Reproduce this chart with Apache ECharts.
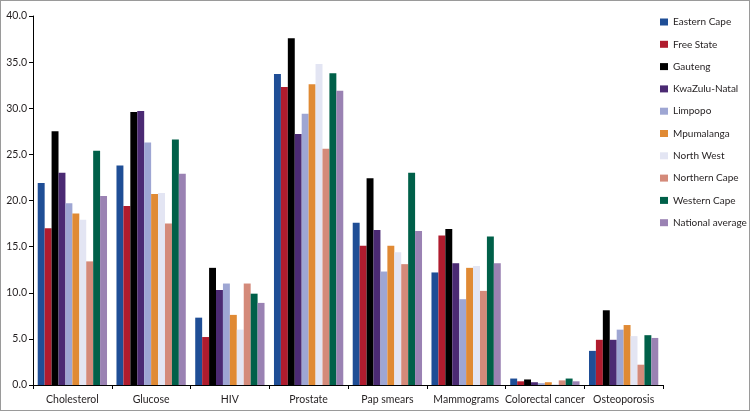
<!DOCTYPE html>
<html>
<head>
<meta charset="utf-8" />
<title></title>
<script src="https://cdn.jsdelivr.net/npm/echarts@6/dist/echarts.min.js"></script>
<style>
  html, body { margin: 0; padding: 0; background: #fff; }
  #chart { width: 750px; height: 411px; box-sizing: border-box; border: 1px solid #9a9a9a; }
</style>
</head>
<body>
<div id="chart"></div>
<script>
var categories = ['Cholesterol', 'Glucose', 'HIV', 'Prostate', 'Pap smears', 'Mammograms', 'Colorectal cancer', 'Osteoporosis'];

var provinces = ['Eastern Cape', 'Free State', 'Gauteng', 'KwaZulu-Natal', 'Limpopo', 'Mpumalanga', 'North West', 'Northern Cape', 'Western Cape', 'National average'];

// values per province, in category order
var easternCape   = [21.9, 23.8, 7.3, 33.7, 17.6, 12.2, 0.7, 3.7];
var freeState     = [17.0, 19.4, 5.2, 32.3, 15.1, 16.2, 0.4, 4.9];
var gauteng       = [27.5, 29.6, 12.7, 37.6, 22.4, 16.9, 0.6, 8.1];
var kwazuluNatal  = [23.0, 29.7, 10.3, 27.2, 16.8, 13.2, 0.3, 4.9];
var limpopo       = [19.7, 26.3, 11.0, 29.4, 12.3, 9.3, 0.2, 6.0];
var mpumalanga    = [18.6, 20.7, 7.6, 32.6, 15.1, 12.7, 0.3, 6.5];
var northWest     = [17.9, 20.8, 6.0, 34.8, 14.4, 12.9, 0.1, 5.3];
var northernCape  = [13.4, 17.5, 11.0, 25.6, 13.1, 10.2, 0.5, 2.2];
var westernCape   = [25.4, 26.6, 9.9, 33.8, 23.0, 16.1, 0.7, 5.4];
var nationalAvg   = [20.5, 22.9, 8.9, 31.9, 16.7, 13.2, 0.4, 5.1];

var yTicks = [0, 5, 10, 15, 20, 25, 30, 35, 40];

var allValues = [easternCape, freeState, gauteng, kwazuluNatal, limpopo, mpumalanga, northWest, northernCape, westernCape, nationalAvg];
var colors = ['#1f4e96', '#b01c2e', '#000000', '#4b2a73', '#9ea6d3', '#e08a34', '#e3e5f3', '#d48a7a', '#006049', '#9a82b3'];

var series = provinces.map(function (name, i) {
    return {
        name: name,
        type: 'bar',
        data: allValues[i],
        barGap: '0%',
        barCategoryGap: '12%',
        itemStyle: { color: colors[i] }
    };
});

var myChart = echarts.init(document.getElementById('chart'));
var option = {
    animation: false,
    color: colors,
    textStyle: { fontFamily: 'Lato' },
    legend: {
        orient: 'vertical',
        left: 659,
        top: 16,
        padding: 0,
        itemWidth: 8,
        itemHeight: 7,
        itemGap: 12.3,
        icon: 'rect',
        textStyle: { fontSize: 10, color: '#231f20', lineHeight: 10 },
        data: provinces
    },
    grid: { left: 32, right: 86, top: 15, bottom: 25, containLabel: false },
    xAxis: {
        type: 'category',
        data: categories,
        axisLine: { lineStyle: { color: '#000', width: 1 } },
        axisTick: { show: true, length: 4, lineStyle: { color: '#000' } },
        axisLabel: { interval: 0, fontSize: 10.5, color: '#231f20', margin: 9 }
    },
    yAxis: {
        type: 'value',
        min: yTicks[0],
        max: yTicks[yTicks.length - 1],
        interval: 5,
        axisLine: { show: true, lineStyle: { color: '#000', width: 1 } },
        axisTick: { show: true, length: 4, lineStyle: { color: '#000' } },
        splitLine: { show: false },
        axisLabel: {
            fontSize: 10.5,
            color: '#231f20',
            margin: 6,
            formatter: function (v) { return v.toFixed(1); }
        }
    },
    series: series
};
myChart.setOption(option);
</script>
</body>
</html>
